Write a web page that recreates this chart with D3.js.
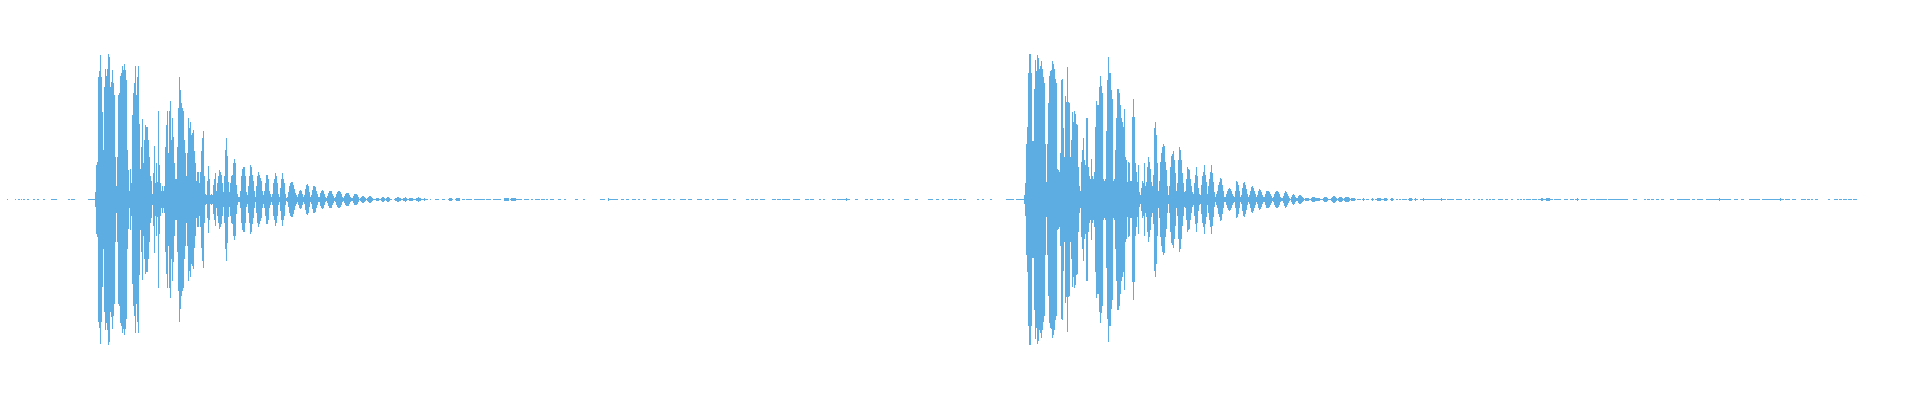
<!DOCTYPE html>
<html>
<head>
<meta charset="utf-8">
<script src="https://cdn.jsdelivr.net/npm/d3@7"></script>
<style>
    html, body { margin: 0; padding: 0; background: #ffffff; }
    svg { display: block; }
    .wave_bar { fill: #5dade2; shape-rendering: crispEdges; }
</style>
</head>
<body>
<div id="chart"></div>
<script>

// peak amplitude per pixel bin (0..1 of full scale)
const burst1Start = 93;
const burst1Peaks = [
    0.003, 0.003, 0.05, 0.24, 0.26, 0.84, 0.88, 0.99, 0.84, 0.60,
    0.34, 0.77, 0.90, 0.85, 0.90, 1.00, 0.98, 0.77, 0.81, 0.89,
    0.80, 0.72, 0.29, 0.09, 0.29, 0.72, 0.73, 0.85, 0.87, 0.92,
    0.89, 0.93, 0.89, 0.82, 0.34, 0.20, 0.06, 0.21, 0.11, 0.58,
    0.73, 0.80, 0.92, 0.72, 0.84, 0.92, 0.52, 0.21, 0.36, 0.55,
    0.25, 0.41, 0.51, 0.50, 0.50, 0.41, 0.29, 0.16, 0.13, 0.04,
    0.18, 0.37, 0.11, 0.25, 0.12, 0.61, 0.24, 0.11, 0.06, 0.09,
    0.06, 0.09, 0.36, 0.51, 0.61, 0.32, 0.61, 0.68, 0.41, 0.56,
    0.43, 0.25, 0.14, 0.14, 0.36, 0.63, 0.84, 0.75, 0.66, 0.63,
    0.61, 0.41, 0.32, 0.16, 0.32, 0.56, 0.49,
    // 190
    0.53, 0.44, 0.46, 0.48, 0.33, 0.25, 0.13, 0.19, 0.19, 0.11,
    0.19, 0.33, 0.42, 0.47, 0.16, 0.04, 0.03, 0.13, 0.23, 0.14,
    0.03, 0.04, 0.03, 0.10, 0.14, 0.18, 0.06, 0.11, 0.16, 0.20,
    0.19, 0.17, 0.11, 0.05, 0.16, 0.34, 0.42, 0.30, 0.12, 0.05,
    0.11, 0.16, 0.17, 0.25, 0.28, 0.25, 0.10, 0.04, 0.02, 0.02,
    0.06, 0.16, 0.21, 0.22, 0.22, 0.16, 0.05, 0.03, 0.09, 0.16,
    0.24, 0.22, 0.17, 0.13, 0.06, 0.02, 0.09, 0.16, 0.19, 0.17,
    0.15, 0.13, 0.06, 0.03, 0.06, 0.11, 0.17, 0.17, 0.14, 0.06,
    0.04, 0.02, 0.04, 0.11, 0.14, 0.18, 0.16, 0.11, 0.04, 0.02,
    0.08, 0.14, 0.18, 0.14, 0.11, 0.04, 0.01, 0.02, 0.05, 0.09,
    0.11, 0.12, 0.12, 0.10, 0.07, 0.045, 0.03,
    // 297
    0.02, 0.04, 0.06, 0.064, 0.055, 0.035, 0.015, 0.03, 0.07, 0.10,
    0.105, 0.09, 0.05, 0.02, 0.03, 0.065, 0.09, 0.092, 0.085, 0.06,
    0.035, 0.015, 0.02, 0.045, 0.06, 0.064, 0.055, 0.035, 0.015, 0.01,
    0.025, 0.045, 0.057, 0.06, 0.055, 0.04, 0.025, 0.01, 0.015, 0.035,
    0.05, 0.057, 0.057, 0.05, 0.035, 0.015, 0.01, 0.025, 0.04, 0.046,
    0.046, 0.042, 0.03, 0.018, 0.008, 0.01, 0.025, 0.035, 0.041, 0.04,
    0.03, 0.015, 0.005, 0.01, 0.02, 0.027, 0.027, 0.02, 0.01, 0.005,
    0.01, 0.018, 0.023, 0.023, 0.018, 0.01, 0.005, 0.003, 0.003, 0.008,
    0.008, 0.008, 0.003, 0.003, 0.01, 0.016, 0.016, 0.012, 0.006, 0.008,
    0.014, 0.014, 0.012, 0.006, 0.003, 0, 0, 0.003, 0.008, 0.013,
    0.016, 0.016, 0.013, 0.008, 0.003, 0.003, 0.008, 0.013, 0.014, 0.012,
    0.006, 0.003, 0.007, 0.011, 0.012, 0.01, 0.006, 0.003, 0.003, 0.007,
    0.012, 0.014, 0.012, 0.007, 0.003, 0.003, 0.006, 0.009, 0.006, 0.003,
    0.003
];

const burst2Start = 1020;
const burst2Peaks = [
    0.003, 0.003, 0.003, 0.003, 0.03, 0.11, 0.38, 0.50, 0.87, 1.00,
    1.00, 0.87, 0.40, 0.40, 0.76, 0.96, 0.88, 0.99, 0.97, 0.90,
    0.92, 0.95, 0.90, 0.84, 0.80, 0.38, 0.12, 0.38, 0.66, 0.85,
    0.88, 0.89, 0.95, 0.93, 0.90, 0.83, 0.80, 0.21, 0.20, 0.19,
    0.32, 0.82, 0.83, 0.49, 0.29, 0.71, 0.67, 0.91, 0.67, 0.66,
    0.29, 0.41, 0.60, 0.53, 0.61, 0.59, 0.52, 0.51, 0.22, 0.09,
    0.06, 0.26, 0.34, 0.42, 0.27, 0.24, 0.56, 0.56, 0.22, 0.16,
    0.14, 0.28, 0.16, 0.14, 0.19, 0.50, 0.68, 0.65, 0.65, 0.77,
    0.85, 0.78, 0.73, 0.14, 0.13, 0.14, 0.47, 0.82, 0.98, 0.87,
    0.87, 0.75, 0.69, 0.13, 0.14, 0.34, 0.56, 0.76,
    // 1118
    0.76, 0.73, 0.65, 0.56, 0.53, 0.50, 0.62, 0.29, 0.27, 0.12,
    0.26, 0.25, 0.13, 0.13, 0.57, 0.69, 0.57, 0.25, 0.19, 0.12,
    0.24, 0.05, 0.03, 0.08, 0.13, 0.11, 0.25, 0.09, 0.12, 0.22,
    0.29, 0.26, 0.21, 0.12, 0.09, 0.17, 0.49, 0.53, 0.44, 0.25,
    0.06, 0.13, 0.26, 0.32, 0.36, 0.38, 0.37, 0.26, 0.20, 0.09,
    0.03, 0.09, 0.22, 0.30, 0.31, 0.33, 0.27, 0.18, 0.06, 0.11,
    0.27, 0.36, 0.34, 0.27, 0.18, 0.11, 0.05, 0.06, 0.14, 0.22,
    0.21, 0.20, 0.14, 0.09, 0.05, 0.04, 0.11, 0.17, 0.22, 0.16,
    0.08, 0.04, 0.03, 0.10, 0.16, 0.19, 0.24, 0.17, 0.12, 0.04,
    0.09, 0.14, 0.19, 0.24, 0.18, 0.12, 0.05, 0.02, 0.04, 0.06,
    0.10, 0.12, 0.15, 0.14, 0.10, 0.06, 0.02,
    // 1225
    0.02, 0.04, 0.06, 0.075, 0.08, 0.075, 0.06, 0.04, 0.025, 0.015,
    0.06, 0.13, 0.12, 0.10, 0.06, 0.02, 0.03, 0.08, 0.115, 0.12,
    0.10, 0.07, 0.04, 0.02, 0.03, 0.06, 0.085, 0.09, 0.08, 0.06,
    0.035, 0.02, 0.03, 0.055, 0.07, 0.065, 0.05, 0.03, 0.015, 0.02,
    0.04, 0.055, 0.057, 0.055, 0.05, 0.04, 0.025, 0.012, 0.02, 0.035,
    0.05, 0.055, 0.055, 0.05, 0.035, 0.02, 0.01, 0.008, 0.025, 0.045,
    0.055, 0.05, 0.04, 0.025, 0.012, 0.006, 0.015, 0.03, 0.037, 0.033,
    0.02, 0.01, 0.012, 0.025, 0.03, 0.03, 0.025, 0.015, 0.008, 0.003,
    0.007, 0.007, 0.007, 0.007, 0.003, 0.003, 0.008, 0.014, 0.016, 0.016,
    0.012, 0.007, 0.007, 0.008, 0.007, 0.006, 0.003, 0.003, 0.008, 0.014,
    0.016, 0.016, 0.012, 0.006, 0.003, 0.003, 0.01, 0.018, 0.023, 0.023,
    0.018, 0.01, 0.006, 0.01, 0.018, 0.02, 0.016, 0.008, 0.003, 0.008,
    0.014, 0.018, 0.018, 0.014, 0.007, 0.003, 0.007, 0.01, 0.01, 0.008,
    0.003
];

// near-silent stretches: runs of bins [first, last] at noise level
const noiseLevel = 0.003;
const noiseRuns = [
    [7, 7], [15, 15], [18, 19], [21, 21], [23, 24], [27, 28], [33, 34], [37, 38],
    [43, 44], [51, 56], [68, 69], [71, 74], [88, 92],
    [427, 427], [430, 430], [435, 438], [442, 444], [448, 452], [455, 459], [462, 464],
    [466, 471], [474, 479], [480, 484], [486, 490], [493, 500], [504, 508], [510, 516],
    [517, 521], [524, 528], [531, 532], [535, 539], [541, 544], [546, 547], [550, 553],
    [558, 560], [564, 565], [575, 577], [583, 584], [600, 604], [608, 617], [621, 623],
    [626, 628], [632, 635], [638, 639], [643, 645], [652, 656], [660, 662], [663, 664],
    [668, 670], [673, 674], [680, 683], [684, 685], [688, 691], [697, 701], [705, 708],
    [712, 713], [717, 722], [723, 727], [733, 735], [746, 748], [751, 753], [755, 757],
    [760, 764], [772, 775], [777, 780], [782, 784], [785, 789], [793, 799], [805, 808],
    [810, 813], [819, 820], [823, 824], [832, 835], [837, 849], [855, 857], [865, 867],
    [870, 872], [877, 880], [882, 883], [888, 889], [892, 893], [904, 908], [915, 917],
    [928, 932], [936, 938], [942, 943], [948, 952], [954, 956], [959, 961], [963, 965],
    [977, 978], [982, 983], [990, 991], [1006, 1013], [1016, 1019],
    [1357, 1360], [1362, 1364], [1366, 1368], [1371, 1373], [1375, 1381], [1382, 1387],
    [1390, 1393], [1396, 1397], [1399, 1400], [1402, 1406], [1408, 1412], [1414, 1417],
    [1420, 1428], [1429, 1437], [1438, 1445], [1447, 1453], [1456, 1461], [1465, 1466],
    [1468, 1469], [1473, 1474], [1478, 1479], [1481, 1482], [1486, 1487], [1489, 1490],
    [1492, 1494], [1498, 1502], [1505, 1507], [1511, 1512], [1517, 1518], [1520, 1521],
    [1523, 1524], [1526, 1528], [1529, 1530], [1532, 1536], [1538, 1552], [1554, 1560],
    [1564, 1567], [1570, 1573], [1575, 1578], [1581, 1586], [1590, 1594], [1596, 1602],
    [1603, 1606], [1608, 1612], [1613, 1616], [1617, 1621], [1622, 1627], [1633, 1636],
    [1644, 1645], [1647, 1649], [1651, 1653], [1656, 1658], [1661, 1663], [1670, 1673],
    [1677, 1682], [1683, 1685], [1686, 1687], [1688, 1689], [1692, 1694], [1697, 1702],
    [1706, 1711], [1712, 1719], [1720, 1730], [1734, 1737], [1741, 1743], [1749, 1754],
    [1755, 1759], [1762, 1768], [1769, 1776], [1777, 1783], [1785, 1789], [1792, 1795],
    [1801, 1805], [1807, 1809], [1811, 1812], [1815, 1817], [1828, 1829], [1834, 1837],
    [1839, 1841], [1843, 1846], [1848, 1851], [1853, 1856]
];

// slightly louder clicks inside the silent stretches
const clickLevel = 0.01;
const clickRuns = [
    [449, 451], [456, 459], [504, 508], [511, 515], [608, 608], [846, 846], [1024, 1024],
    [1363, 1363], [1372, 1372], [1377, 1380], [1384, 1386], [1391, 1392], [1409, 1411],
    [1415, 1415], [1423, 1423], [1441, 1441], [1541, 1542], [1546, 1549], [1577, 1577],
    [1719, 1719], [1780, 1780]
];

const binCount = 1920;

const width = 1920;
const height = 400;

//build the per-bin peaks
let peaks = new Array(binCount).fill(0);

noiseRuns.forEach(([a, b]) => {
    for (let i = a; i <= b; i++) peaks[i] = noiseLevel;
});
clickRuns.forEach(([a, b]) => {
    for (let i = a; i <= b; i++) peaks[i] = Math.max(peaks[i], clickLevel);
});
burst1Peaks.forEach((v, i) => { peaks[burst1Start + i] = v; });
burst2Peaks.forEach((v, i) => { peaks[burst2Start + i] = v; });

let data = [];
for (let i = 0; i < binCount; i++) {
    if (peaks[i] > 0) data.push([i, peaks[i]]);
}

const svg = d3.select('#chart').append('svg')
    .attr('width', width)
    .attr('height', height);

let x = d3.scaleLinear().domain([0, binCount]).range([0, width]);
let y = d3.scaleLinear().domain([-1, 1]).range([345, 54]);

svg.append('g')
    .selectAll('.wave_bar')
    .data(data)
    .enter()
    .append('rect')
    .attr('class', 'wave_bar')
    .attr('x', (d) => x(d[0]))
    .attr('width', (d) => x(d[0] + 1) - x(d[0]))
    .attr('y', (d) => y(d[1]))
    .attr('height', (d) => Math.max(1, y(-d[1]) - y(d[1])));

</script>
</body>
</html>
